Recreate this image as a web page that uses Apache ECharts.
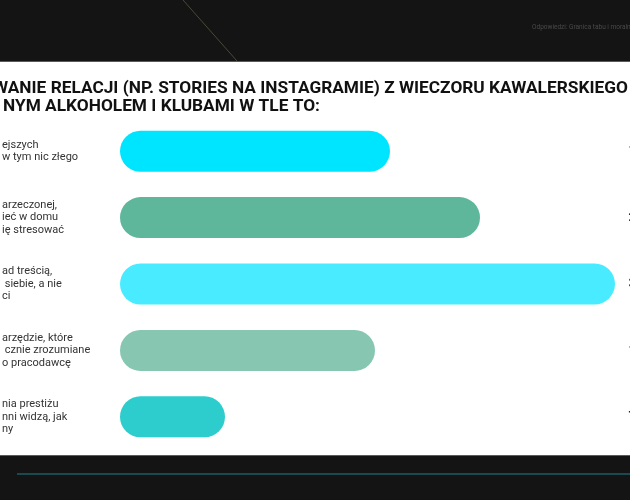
<!DOCTYPE html>
<html lang="pl">
<head>
    <meta charset="UTF-8">
    <title>Relacje z wieczoru kawalerskiego</title>
    <script src="https://cdn.jsdelivr.net/npm/echarts@6/dist/echarts.min.js"></script>
    <style>
        html, body { margin: 0; padding: 0; background: #141414; }
        #chart { width: 630px; height: 500px; }
    </style>
</head>
<body>
    <div id="chart"></div>
    <script>
        // widoczne fragmenty etykiet (slajd jest przycięty z lewej)
        const categories = [
            'ejszych\nw tym nic złego',
            'arzeczonej,\nieć w domu\nię stresować',
            'ad treścią,\n siebie, a nie\nci',
            'arzędzie, które\n cznie zrozumiane\no pracodawcę',
            'nia prestiżu\nnni widzą, jak\nny'
        ];
        const values = [18, 24, 33, 17, 7];
        const colors = ['#00e5ff', '#5fb79b', '#48ebff', '#87c7b1', '#2ecdcd'];
        const valueLabels = values.map(v => v + '%');

        const chart = echarts.init(document.getElementById('chart'));
        chart.setOption({
            backgroundColor: '#141414',
            animation: false,
            graphic: [
                { type: 'line', shape: { x1: 183, y1: 0, x2: 237, y2: 61 }, style: { stroke: '#4a4a38', lineWidth: 1 } },
                { type: 'rect', shape: { x: 0, y: 61, width: 630, height: 395 }, style: { fill: '#5a5a5a' } },
                { type: 'rect', shape: { x: 0, y: 62, width: 630, height: 393 }, style: { fill: '#ffffff' } },
                { type: 'line', shape: { x1: 17, y1: 474, x2: 630, y2: 474 }, style: { stroke: '#1d5d66', lineWidth: 1.5 } }
            ],
            title: [
                {
                    text: 'Odpowiedzi: Granica tabu i moralności',
                    left: 532, top: 24, padding: 0,
                    textStyle: { fontSize: 6.5, fontWeight: 'normal', color: '#4a4a4a', fontFamily: 'Roboto' }
                },
                {
                    text: 'WANIE RELACJI (NP. STORIES NA INSTAGRAMIE) Z WIECZORU KAWALERSKIEGO',
                    left: -7, top: 80,
                    padding: 0,
                    textStyle: { fontSize: 17.3, fontWeight: 'bold', color: '#111111', fontFamily: 'Roboto' }
                },
                {
                    text: 'NYM ALKOHOLEM I KLUBAMI W TLE TO:',
                    left: 3, top: 98,
                    padding: 0,
                    textStyle: { fontSize: 17.3, fontWeight: 'bold', color: '#111111', fontFamily: 'Roboto' }
                }
            ],
            grid: { left: 120, right: 0, top: 118, bottom: 50, containLabel: false, outerBoundsMode: 'none' },
            xAxis: {
                type: 'value', min: 0, max: 34,
                show: false
            },
            yAxis: [
                {
                    type: 'category', data: categories, inverse: true,
                    axisLine: { show: false }, axisTick: { show: false }, splitLine: { show: false },
                    axisLabel: {
                        align: 'left', margin: 118,
                        fontSize: 11, lineHeight: 12.5, color: '#333333', fontFamily: 'Roboto'
                    }
                },
                {
                    type: 'category', data: valueLabels, inverse: true, position: 'right',
                    axisLine: { show: false }, axisTick: { show: false }, splitLine: { show: false },
                    axisLabel: {
                        align: 'left', margin: -1.5,
                        fontSize: 13, fontWeight: 'bold', color: '#222', fontFamily: 'Roboto'
                    }
                }
            ],
            series: [{
                type: 'bar',
                data: values.map((v, i) => ({ value: v, itemStyle: { color: colors[i] } })),
                barWidth: 41,
                itemStyle: { borderRadius: 20.5 }
            }]
        });
    </script>
</body>
</html>
